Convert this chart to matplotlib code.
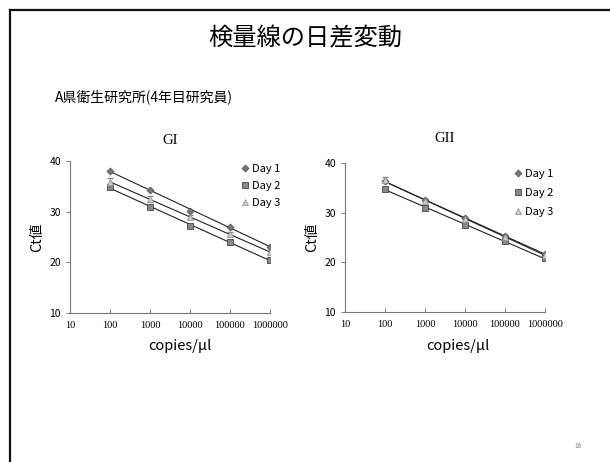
import numpy as np
import matplotlib
matplotlib.use("Agg")
import matplotlib.pyplot as plt
from matplotlib.lines import Line2D

plt.rcParams['font.family'] = ['Noto Sans CJK JP', 'DejaVu Sans']

copies = [100, 1000, 10000, 100000, 1000000]
days = ["Day 1", "Day 2", "Day 3"]
gi_day1 = [38.0, 34.3, 30.2, 27.0, 23.1]
gi_day2 = [34.8, 31.0, 27.1, 24.1, 20.4]
gi_day3 = [35.8, 32.5, 29.0, 25.5, 22.0]
gi_day3_err = [0.8, 0.5, 0.4, 0.4, 0.4]
gii_day1 = [36.3, 32.5, 28.9, 25.4, 21.6]
gii_day2 = [34.8, 31.0, 27.5, 24.2, 20.8]
gii_day3 = [36.5, 32.3, 28.7, 25.2, 21.5]
gii_day3_err = [0.6, 0.4, 0.3, 0.3, 0.3]
xtick_vals = [10, 100, 1000, 10000, 100000, 1000000]
xtick_labels = ["10", "100", "1000", "10000", "100000", "1000000"]
ytick_vals = [10, 20, 30, 40]

title = "検量線の日差変動"
subtitle = "A県衛生研究所(4年目研究員)"

fig = plt.figure(figsize=(6.1, 4.62), dpi=100)

# slide border
fig.add_artist(Line2D([10/610, 1.0], [1-10/462, 1-10/462], color='#111111', lw=1.6, transform=fig.transFigure))
fig.add_artist(Line2D([10/610, 10/610], [0, 1-10/462], color='#111111', lw=1.6, transform=fig.transFigure))

fig.text(305/610, 1-38/462, title, ha='center', va='center', fontsize=17.5)
fig.text(55/610, 1-97/462, subtitle, ha='left', va='center', fontsize=10)
fig.text(578/610, 1-446/462, "16", ha='center', va='center', fontsize=4.5, color='#777777')

styles = [
    dict(marker='D', ms=3.5, mfc='#777777', mec='#555555'),
    dict(marker='s', ms=4.5, mfc='#888888', mec='#444444'),
    dict(marker='^', ms=4.5, mfc='#cccccc', mec='#999999'),
]

def panel(rect, series, errs3, ttl, tpad, leg_anchor, leg_ls, xl_coords):
    ax = fig.add_axes(rect)
    ax.set_xscale('log')
    lx = np.log10(copies)
    handles = []
    for i, ys in enumerate(series):
        st = styles[i]
        p = np.polyfit(lx, ys, 1)
        xx = np.array([copies[0], copies[-1]])
        ax.plot(xx, np.polyval(p, np.log10(xx)), color='#222222', lw=0.8, zorder=2)
        if i == 2:
            ax.errorbar(copies, ys, yerr=errs3, fmt='none', ecolor='#888888', elinewidth=0.6, capsize=2, zorder=3)
        h, = ax.plot(copies, ys, linestyle='none', zorder=4, mew=0.6, **st)
        handles.append(h)
    ax.set_xlim(10, 1000000)
    ax.set_ylim(10, 40)
    ax.set_xticks(xtick_vals)
    ax.set_xticklabels(xtick_labels, fontsize=7.5, family=['Liberation Serif', 'DejaVu Serif'])
    ax.minorticks_off()
    ax.set_yticks(ytick_vals)
    ax.tick_params(axis='y', labelsize=7.5, length=3, color='#666666', width=0.6)
    ax.tick_params(axis='x', direction='in', length=3, color='#666666', width=0.6, pad=6)
    for s in ['top', 'right']:
        ax.spines[s].set_visible(False)
    for s in ['left', 'bottom']:
        ax.spines[s].set_color('#777777')
        ax.spines[s].set_linewidth(0.8)
    ax.set_title(ttl, fontsize=10.5, family=['Liberation Serif', 'DejaVu Serif'], pad=tpad)
    ax.set_ylabel("Ct値", fontsize=10.5)
    ax.set_xlabel("copies/μl", fontsize=10.5)
    ax.xaxis.set_label_coords(*xl_coords)
    ax.legend(handles, days, loc='upper left', frameon=False, fontsize=8, handlelength=0.6,
              handletextpad=0.3, labelspacing=leg_ls, borderaxespad=0, borderpad=0,
              bbox_to_anchor=leg_anchor)
    return ax

panel([70/610, 1-313/462, 200/610, 152/462], [gi_day1, gi_day2, gi_day3], gi_day3_err, "GI",
      12, (0.86, 0.98), 0.62, (0.55, -0.17))
panel([345/610, 1-312/462, 200/610, 149/462], [gii_day1, gii_day2, gii_day3], gii_day3_err, "GII",
      15, (0.85, 0.96), 0.8, (0.565, -0.18))

fig.savefig("out.png", dpi=100)
